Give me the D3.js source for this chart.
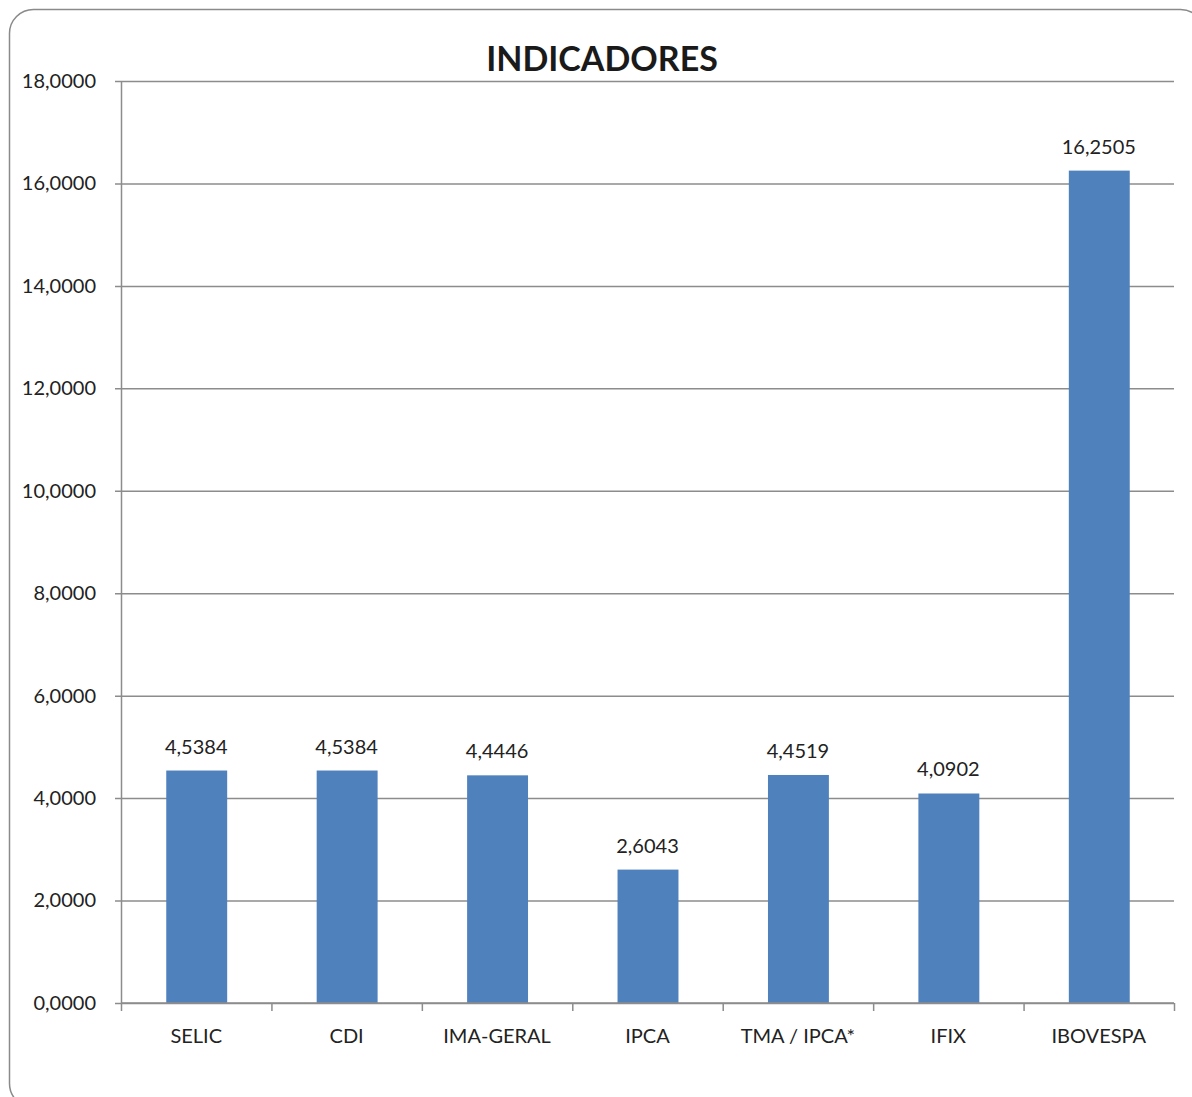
<!DOCTYPE html>
<html>
<head>
<meta charset="utf-8">
<script src="https://cdn.jsdelivr.net/npm/d3@7"></script>
<style>
  body { margin: 0; background: #fff; }
  svg { display: block; }
</style>
</head>
<body>
<svg id="chart" width="1192" height="1097"></svg>
<script>
// data
var categories = ["SELIC", "CDI", "IMA-GERAL", "IPCA", "TMA / IPCA*", "IFIX", "IBOVESPA"];
var values = [4.5384, 4.5384, 4.4446, 2.6043, 4.4519, 4.0902, 16.2505];
var yTicks = [0, 2, 4, 6, 8, 10, 12, 14, 16, 18];
var title = "INDICADORES";

var W = 1192, H = 1097;
var plot = { left: 121, right: 1174, top: 81, bottom: 1003 };
var FONT = "Lato, 'Open Sans', sans-serif";
var gridColor = "#8c8c8c";
var barColor = "#4f81bd";
var textColor = "#222";

var svg = d3.select("#chart");

// outer frame (bottom edge and right corners fall just outside the picture)
svg.append("rect")
  .attr("x", 9.5).attr("y", 9.5)
  .attr("width", 1195).attr("height", 1098)
  .attr("rx", 24).attr("ry", 24)
  .attr("fill", "#fff")
  .attr("stroke", "#8a8a8a")
  .attr("stroke-width", 1.5);

var x = d3.scaleBand()
  .domain(categories)
  .range([plot.left, plot.right])
  .padding(0);

var y = d3.scaleLinear()
  .domain([0, 18])
  .range([plot.bottom, plot.top]);

function fmt(v) {
  return v.toFixed(4).replace(".", ",");
}

// gridlines + y axis
var yAxis = d3.axisLeft(y)
  .tickValues(yTicks)
  .tickSize(-(plot.right - plot.left))
  .tickPadding(25)
  .tickFormat(fmt);

var gy = svg.append("g")
  .attr("transform", "translate(" + plot.left + ",0)")
  .call(yAxis);
gy.select(".domain").remove();
gy.selectAll(".tick line")
  .attr("x1", -6)
  .attr("stroke", gridColor)
  .attr("stroke-width", 1.5);
gy.selectAll(".tick text")
  .attr("font-family", FONT)
  .attr("font-size", 20)
  .attr("fill", textColor);

// vertical axis line
svg.append("line")
  .attr("x1", plot.left + 0.5).attr("x2", plot.left + 0.5)
  .attr("y1", plot.top).attr("y2", plot.bottom)
  .attr("stroke", gridColor).attr("stroke-width", 1.5);

// bars
var barW = x.bandwidth() * 0.405;
svg.append("g").selectAll("rect")
  .data(values)
  .enter()
  .append("rect")
  .attr("x", function(d, i) { return x(categories[i]) + x.bandwidth() / 2 - barW / 2 + 0.5; })
  .attr("y", function(d) { return y(d); })
  .attr("width", barW)
  .attr("height", function(d) { return y(0) - y(d); })
  .attr("fill", barColor);

// value labels
svg.append("g").selectAll("text")
  .data(values)
  .enter()
  .append("text")
  .attr("x", function(d, i) { return x(categories[i]) + x.bandwidth() / 2; })
  .attr("y", function(d) { return y(d) - 17; })
  .attr("text-anchor", "middle")
  .attr("font-family", FONT)
  .attr("font-size", 20)
  .attr("fill", textColor)
  .text(fmt);

// x axis (category ticks between bands)
var gx = svg.append("g")
  .attr("transform", "translate(0," + plot.bottom + ")");
gx.append("line")
  .attr("x1", plot.left).attr("x2", plot.right)
  .attr("stroke", gridColor).attr("stroke-width", 1.5);
var bounds = categories.map(function(c) { return x(c); }).concat([plot.right]);
gx.selectAll("line.tk")
  .data(bounds)
  .enter()
  .append("line")
  .attr("class", "tk")
  .attr("x1", function(d) { return d + 0.5; })
  .attr("x2", function(d) { return d + 0.5; })
  .attr("y1", 0).attr("y2", 8)
  .attr("stroke", gridColor).attr("stroke-width", 1.5);
gx.selectAll("text")
  .data(categories)
  .enter()
  .append("text")
  .attr("x", function(d) { return x(d) + x.bandwidth() / 2; })
  .attr("y", 40)
  .attr("text-anchor", "middle")
  .attr("font-family", FONT)
  .attr("font-size", 20)
  .attr("fill", textColor)
  .text(function(d) { return d; });

// title
svg.append("text")
  .attr("x", 602)
  .attr("y", 71)
  .attr("text-anchor", "middle")
  .attr("font-family", FONT)
  .attr("font-weight", "bold")
  .attr("font-size", 34)
  .attr("fill", "#1a1a1a")
  .text(title);
</script>
</body>
</html>
